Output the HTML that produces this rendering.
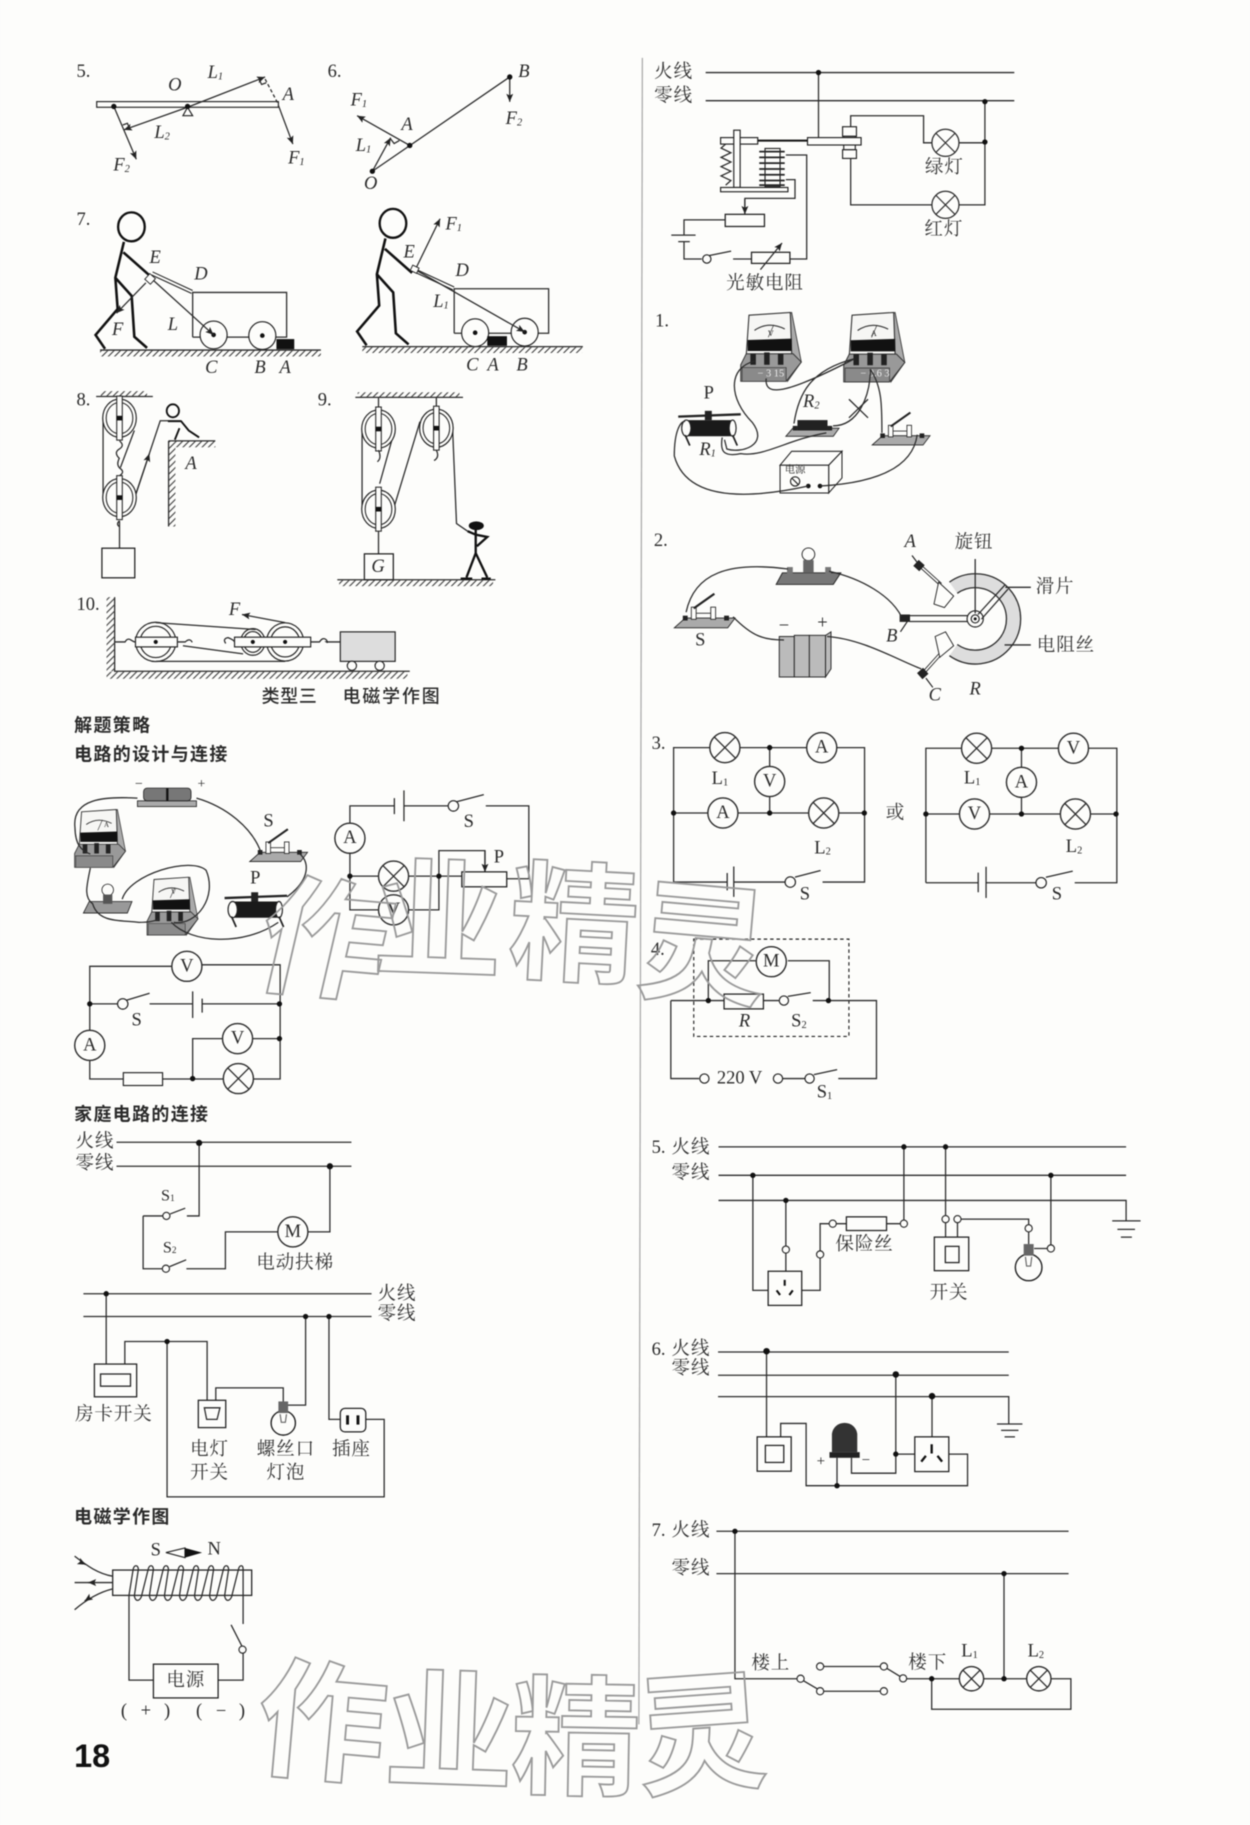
<!DOCTYPE html>
<html><head><meta charset="utf-8"><style>
html,body{margin:0;padding:0;background:#fdfdfb}
svg{display:block;filter:blur(.4px)}
.w{fill:none;stroke:#2b2b2b;stroke-width:1.1}
.t{font-family:"Liberation Serif","Noto Serif CJK SC",serif;font-size:16px;fill:#2a2a2a;text-anchor:middle;dominant-baseline:central}
.i{font-family:"Liberation Serif",serif;font-style:italic;font-size:16px;fill:#2a2a2a;text-anchor:middle;dominant-baseline:central}
.c{font-family:"Liberation Serif","Noto Serif CJK SC",serif;font-size:16px;letter-spacing:.8px;fill:#333;text-anchor:middle;dominant-baseline:central}
.h{font-family:"Liberation Sans","Noto Sans CJK SC",sans-serif;font-size:15.5px;letter-spacing:1.2px;font-weight:700;fill:#2a2a2a;dominant-baseline:central}
.k{font-family:"Noto Sans CJK SC",sans-serif;font-weight:700;font-size:112px;fill:none;stroke:#9a9a9a;stroke-width:1.6}
</style></head><body>
<svg xmlns="http://www.w3.org/2000/svg" width="1250" height="1825" viewBox="0 0 1080 1577">
<defs>
<pattern id="h" width="5.5" height="5.5" patternUnits="userSpaceOnUse"><path d="M0 5.5L5.5 0M-1 1L1 -1M4.5 6.5L6.5 4.5" stroke="#333" stroke-width=".9"/></pattern>
<marker id="a" markerWidth="8" markerHeight="8" refX="7" refY="3" orient="auto" markerUnits="userSpaceOnUse"><path d="M0 0L7 3L0 6L1.5 3Z" fill="#222"/></marker>
<g id="l"><circle r="13" fill="#fdfdfb" stroke="#2b2b2b" stroke-width="1.2"/><path d="M-9.2 -9.2L9.2 9.2M-9.2 9.2L9.2 -9.2" stroke="#2b2b2b" stroke-width="1.1"/></g>
<g id="l2"><circle r="10.5" fill="#fdfdfb" stroke="#2b2b2b" stroke-width="1.2"/><path d="M-7.4 -7.4L7.4 7.4M-7.4 7.4L7.4 -7.4" stroke="#2b2b2b" stroke-width="1.1"/></g>
<circle id="o" r="13" fill="#fdfdfb" stroke="#2b2b2b" stroke-width="1.2"/>
<circle id="d" r="2.3" fill="#111"/>
<circle id="q" r="3.1" fill="#fdfdfb" stroke="#2b2b2b" stroke-width="1"/>
<g id="p"><ellipse rx="14.5" ry="16.5" fill="#fdfdfb" stroke="#222" stroke-width="1"/><ellipse rx="11.5" ry="13.5" fill="none" stroke="#222" stroke-width=".9"/><rect x="-2.4" y="-19" width="4.8" height="38" fill="#fdfdfb" stroke="#222" stroke-width=".9"/><rect x="-2.4" y="-2" width="4.8" height="4" fill="#111"/></g>
<g id="m"><polygon points="30,3 37,0 44,36 34,50 33,30" fill="#aaa" stroke="#333" stroke-width=".6"/><polygon points="6,2 36,0 37,30 4,31" fill="#f6f6f4" stroke="#333" stroke-width=".8"/><path d="M10 13Q20 6 32 12" fill="none" stroke="#333" stroke-width=".8"/><path d="M20 18L24 9" stroke="#333" stroke-width=".5"/><polygon points="5,20 37,19 37,28 5,28" fill="#111"/><polygon points="0,38 4,30 38,30 44,36 33,50 0,50" fill="#999" stroke="#333" stroke-width=".7"/><polygon points="1,40 33,40 33,50 1,50" fill="#8a8a8a" stroke="#333" stroke-width=".5"/><rect x="7" y="30" width="4" height="8" fill="#222"/><rect x="17" y="29" width="4" height="9" fill="#222"/><rect x="27" y="30" width="4" height="8" fill="#222"/></g>
<g id="r"><rect x="6" y="8" width="42" height="14" rx="3" fill="#1a1a1a"/><ellipse cx="7" cy="15" rx="4" ry="7" fill="#fdfdfb" stroke="#222"/><ellipse cx="47" cy="15" rx="3" ry="7" fill="#fdfdfb" stroke="#222"/><path d="M0 5L54 3" stroke="#222" stroke-width="2"/><rect x="23" y="0" width="6" height="8" fill="#222"/><path d="M6 21L10 30M47 21L51 30" stroke="#222" stroke-width="1.5"/></g>
<g id="s"><polygon points="0,30 9,22 50,22 44,30" fill="#aaa" stroke="#222" stroke-width=".7"/><rect x="14" y="13" width="4" height="10" fill="#fdfdfb" stroke="#222" stroke-width=".7"/><rect x="30" y="13" width="4" height="10" fill="#fdfdfb" stroke="#222" stroke-width=".7"/><path d="M16 14L33 2" stroke="#222" stroke-width="1.8"/><path d="M18 18H30" stroke="#222" stroke-width=".7"/><rect x="7" y="20" width="4" height="4" fill="#222"/><rect x="41" y="20" width="4" height="4" fill="#222"/></g>
<g id="fig"><ellipse cx="113.5" cy="196" rx="11.5" ry="12.5" fill="none" stroke="#111" stroke-width="2"/><path d="M107 209L99.6 240L101.6 267L82.5 289.4L90.7 301.4M99.6 240L113.7 255.7L116 291L127 300.6M106.5 218L130 238.8" fill="none" stroke="#111" stroke-width="2.2"/><path d="M131.8 235L166.4 251M130.8 237.5L165.4 253.5" fill="none" stroke="#222" stroke-width=".9"/></g>
</defs>
<rect width="1080" height="1577" fill="#fdfdfb"/>
<path d="M555 50L552 1490" stroke="#aaa" stroke-width="1.1"/>

<!-- 5 -->
<text class="t" x="72" y="62">5.</text>
<rect x="83.5" y="87.8" width="157" height="4.9" fill="#fdfdfb" stroke="#222"/>
<polygon points="158,100 166.4,100 162,92.7" fill="#fdfdfb" stroke="#222"/>
<path class="w" d="M162 92.7L229 66.5" marker-end="url(#a)"/>
<path class="w" d="M229 68.3L240.4 90" stroke-dasharray="3 2"/>
<path class="w" d="M224 69L226 73L230 71.5"/>
<path class="w" d="M240.4 90.8L253 124.5" marker-end="url(#a)"/>
<path class="w" d="M98.3 92L117.7 137.6" marker-end="url(#a)"/>
<path class="w" d="M162 92.7L107 112.2" marker-end="url(#a)"/>
<path class="w" d="M106 108L110 106.5L112 111"/>
<use href="#d" x="98.3" y="92"/><use href="#d" x="162" y="92"/>
<text class="i" x="151" y="74">O</text>
<text class="i" x="186" y="63">L<tspan font-size="9" dy="3">1</tspan></text>
<text class="i" x="249" y="82">A</text>
<text class="i" x="140" y="115">L<tspan font-size="9" dy="3">2</tspan></text>
<text class="i" x="105" y="143">F<tspan font-size="9" dy="3">2</tspan></text>
<text class="i" x="256" y="137">F<tspan font-size="9" dy="3">1</tspan></text>
<!-- 6 -->
<text class="t" x="289" y="62">6.</text>
<path class="w" d="M321.7 148L440.4 66.5"/>
<path class="w" d="M440.4 66.5V88" marker-end="url(#a)"/>
<path class="w" d="M354 125.7L308.5 100" marker-end="url(#a)"/>
<path class="w" d="M321.7 148L337.5 119" marker-end="url(#a)"/>
<path class="w" d="M337 119.5L340.5 124L345 121.5"/>
<use href="#d" x="440.4" y="66.5"/><use href="#d" x="354" y="125.7"/><use href="#d" x="321.7" y="148"/>
<text class="i" x="452.6" y="62">B</text>
<text class="i" x="310" y="87">F<tspan font-size="9" dy="3">1</tspan></text>
<text class="i" x="444" y="103">F<tspan font-size="9" dy="3">2</tspan></text>
<text class="i" x="351.6" y="108">A</text>
<text class="i" x="314" y="126">L<tspan font-size="9" dy="3">1</tspan></text>
<text class="i" x="320.3" y="159">O</text>
<!-- 7 -->
<text class="t" x="72" y="190">7.</text>
<use href="#fig"/>
<path class="w" d="M166.4 291.3V252.7H247.6V291.3H166.4"/>
<ellipse cx="184.5" cy="289.4" rx="11.7" ry="12" fill="#fdfdfb" stroke="#222"/><circle cx="184.5" cy="289.4" r="2" fill="#111"/>
<ellipse cx="226.6" cy="290" rx="11.7" ry="12" fill="#fdfdfb" stroke="#222"/><circle cx="226.6" cy="290" r="2" fill="#111"/>
<rect x="238.8" y="293" width="15.4" height="8.8" fill="#111"/>
<path class="w" d="M86.4 302.5H277.2"/><rect x="86.4" y="303" width="190.8" height="5" fill="url(#h)"/>
<path class="w" d="M130 240L184.5 289.4" marker-end="url(#a)"/>
<path class="w" d="M126 244.4L100.6 270.6" marker-end="url(#a)"/>
<rect x="126.5" y="238" width="6.5" height="6.5" transform="rotate(42 130 241)" fill="#fdfdfb" stroke="#222" stroke-width=".8"/>
<text class="i" x="134" y="223">E</text><text class="i" x="173.6" y="237">D</text><text class="i" x="101.6" y="285">F</text><text class="i" x="149.3" y="281">L</text><text class="i" x="182.5" y="318">C</text><text class="i" x="224.6" y="318">B</text><text class="i" x="246.3" y="318">A</text>
<use href="#fig" transform="translate(226,-3)"/>
<path class="w" d="M392.4 288V249.5H474V288H392.4"/>
<ellipse cx="410.5" cy="287.5" rx="11.7" ry="12" fill="#fdfdfb" stroke="#222"/><circle cx="410.5" cy="287.5" r="2" fill="#111"/>
<ellipse cx="453.3" cy="287" rx="11.7" ry="12" fill="#fdfdfb" stroke="#222"/><circle cx="453.3" cy="287" r="2" fill="#111"/>
<rect x="421" y="290.5" width="17" height="8.3" fill="#111"/>
<path class="w" d="M313 299.5H503.6"/><rect x="313" y="300" width="190" height="5" fill="url(#h)"/>
<path class="w" d="M358.8 233L380.2 189" marker-end="url(#a)"/>
<path class="w" d="M358.8 233L453.3 286.8" marker-end="url(#a)"/>
<rect x="355.5" y="230" width="6" height="5" transform="rotate(25 358 232)" fill="#fdfdfb" stroke="#222" stroke-width=".8"/>
<text class="i" x="353.5" y="218">E</text><text class="i" x="392" y="194">F<tspan font-size="9" dy="3">1</tspan></text><text class="i" x="399.3" y="234">D</text><text class="i" x="381" y="261">L<tspan font-size="9" dy="3">1</tspan></text><text class="i" x="408" y="316">C</text><text class="i" x="426" y="316">A</text><text class="i" x="451" y="316">B</text>
<!-- 8 -->
<text class="t" x="72" y="346">8.</text>
<path class="w" d="M83 342.6H132"/><rect x="87" y="338" width="40" height="4.5" fill="url(#h)"/>
<path class="w" d="M89 361V430M116 372L104 404M117 428L138.4 363.6H156.5"/>
<path class="w" d="M117 428L129 392" marker-end="url(#a)"/>
<use href="#p" x="103.2" y="361.3"/><use href="#p" x="103.2" y="430"/>
<path class="w" d="M103.2 381Q108 385 103 388T103 396Q100 402 104 405T103.2 411M103.2 450V473.7M103 450Q100 453 103 455"/>
<rect x="88" y="473.7" width="28.4" height="25.6" fill="none" stroke="#222" stroke-width="1.1"/>
<ellipse cx="149.3" cy="355" rx="5.3" ry="5.6" fill="none" stroke="#111" stroke-width="1.6"/>
<path d="M145 364L156.5 364L163 372L172 378M155 370L151 380" fill="none" stroke="#111" stroke-width="1.6"/>
<path class="w" d="M145.6 381H186M145.6 381V455"/><rect x="146" y="381.5" width="40" height="5" fill="url(#h)"/><rect x="146" y="386" width="5.5" height="69" fill="url(#h)"/>
<text class="i" x="165" y="401">A</text>
<!-- 9 -->
<text class="t" x="280.5" y="346">9.</text>
<path class="w" d="M307 343.4H400"/><rect x="309" y="339" width="88" height="4.5" fill="url(#h)"/>
<path class="w" d="M312.8 370V440M340.7 437.4L362.8 364.4M391 370L394.4 452.4L404 459M340 375L328 418"/>
<use href="#p" x="327" y="370.7"/><use href="#p" x="377" y="370"/><use href="#p" x="327" y="440"/>
<path class="w" d="M327 343V352M377 343V351M377 389Q380 395 375 398M327 389Q330 396 326 399M327 459V478.6"/>
<rect x="314.8" y="478.6" width="25" height="22.4" fill="none" stroke="#222" stroke-width="1.1"/>
<path class="w" d="M291.4 501H428"/><rect x="293" y="501.5" width="133" height="5" fill="url(#h)"/>
<text class="i" x="326.6" y="490">G</text>
<ellipse cx="411.5" cy="454.3" rx="6.5" ry="3.8" fill="#111"/>
<path d="M411 458V478L403 499M411 478L421 499M404 459L411 462L421 464L412 472M398 500H408M416 500H424" fill="none" stroke="#111" stroke-width="2"/>
<!-- 10 -->
<text class="t" x="76" y="523">10.</text>
<path class="w" d="M99 516V580H354"/><rect x="92" y="516" width="7" height="64" fill="url(#h)"/><rect x="92" y="580.5" width="260" height="6" fill="url(#h)"/>
<ellipse cx="134.5" cy="554.7" rx="17.4" ry="17" fill="#fdfdfb" stroke="#222"/><ellipse cx="134.5" cy="554.7" rx="13.5" ry="13.5" fill="none" stroke="#222"/>
<ellipse cx="218.4" cy="554.7" rx="10.5" ry="11.5" fill="#fdfdfb" stroke="#222"/><ellipse cx="218.4" cy="554.7" rx="8" ry="9" fill="none" stroke="#222"/>
<ellipse cx="246.3" cy="554.7" rx="16" ry="16.5" fill="#fdfdfb" stroke="#222"/><ellipse cx="246.3" cy="554.7" rx="12.5" ry="13" fill="none" stroke="#222"/>
<path class="w" d="M134.5 538L220.7 544M134.5 571.5H246.3M158 558L210 565"/>
<path class="w" d="M246.3 538L209 531" marker-end="url(#a)"/>
<rect x="117" y="550.6" width="36.2" height="8.4" fill="#fdfdfb" stroke="#222"/><rect x="202.6" y="550.6" width="65.8" height="8.4" fill="#fdfdfb" stroke="#222"/>
<circle cx="134.5" cy="554.7" r="1.8" fill="#111"/><circle cx="218.4" cy="554.7" r="1.8" fill="#111"/><circle cx="246.3" cy="554.7" r="1.8" fill="#111"/>
<path class="w" d="M99 554.7H108Q110 551 113 553T117 554.7M153 554.7H160Q164 551 166 555M195 556Q192 552 197 551Q202 553 202.6 554.7M268.4 554.7H276Q279 550 282 553Q284 556 282 554.7H294"/>
<rect x="294" y="546" width="47.4" height="25.5" fill="#ddd" stroke="#222"/>
<circle cx="304" cy="575.3" r="4" fill="#fdfdfb" stroke="#222"/><circle cx="328" cy="575.3" r="4" fill="#fdfdfb" stroke="#222"/>
<text class="i" x="202.6" y="527">F</text>
<text class="h" x="226" y="602" style="font-size:15.5px;letter-spacing:.6px;font-weight:500">类型三</text>
<text class="h" x="296" y="602" style="font-size:15.5px;letter-spacing:1.6px;font-weight:500">电磁学作图</text>
<text class="h" x="64" y="627">解题策略</text>
<text class="h" x="64" y="652">电路的设计与连接</text>

<!-- physical A -->
<rect x="118.7" y="692" width="51" height="5" fill="#aaa" stroke="#222" stroke-width=".7"/>
<rect x="124" y="681" width="41" height="11" rx="3" fill="#777" stroke="#222" stroke-width=".7"/><path d="M144.5 681V692" stroke="#111" stroke-width="2"/>
<text class="t" x="120" y="678" style="font-size:12px">−</text><text class="t" x="174" y="678" style="font-size:12px">+</text>
<use href="#m" x="64.4" y="699.5"/>
<use href="#m" x="127" y="758"/>
<text class="t" x="92" y="713" style="font-size:6px">A</text><text class="t" x="150" y="771" style="font-size:6px">V</text>
<g transform="translate(215.7,714.5)"><use href="#s"/></g>
<text class="t" x="232" y="710">S</text>
<g transform="translate(72,763)"><polygon points="0,26 5,16 42,16 38,26" fill="#999" stroke="#222" stroke-width=".7"/><circle cx="21" cy="6" r="5" fill="#fdfdfb" stroke="#222" stroke-width=".7"/><rect x="17" y="10" width="8" height="8" fill="#555"/></g>
<use href="#r" x="194" y="771"/>
<text class="t" x="220.5" y="759">P</text>
<path class="w" d="M118.7 689.7C90 688 62 690 64.7 715C65 730 70 735 78 738M78 750C75 765 72 775 80 781C85 798 105 795 120 797C128 797 134 796 137 794M105.5 777C112 755 165 740 178 752C188 775 170 800 150 797M169.7 689.7C195 697 218 715 225.6 737M258 737C268 745 268 760 248 775M240.4 797C210 818 165 815 148 797"/>
<!-- B -->
<path class="w" d="M302.3 711.5V696.4H340.7M340.7 689.7V703.5M349 683V709.6M349 696.4H386.8M394.5 692.8L418 686.6M419.7 696.4H456.9V759.3H437.8M302.3 737V786.2H327M353 786.2H379.2V735H419V753" />
<path class="w" d="M419 735V753.4" marker-end="url(#a)"/>
<path class="w" d="M302.3 757.1H327M353 757.1H399"/>
<circle cx="391.7" cy="696.4" r="4.5" fill="#fdfdfb" stroke="#222"/>
<rect x="399" y="753.4" width="38.8" height="12.9" fill="none" stroke="#222" stroke-width="1.1"/>
<use href="#o" x="302.3" y="724.3"/><text class="t" x="302.3" y="724.3">A</text>
<use href="#l" x="340" y="757.1"/><use href="#o" x="340" y="786.2"/><text class="t" x="340" y="786.2">V</text>
<use href="#d" x="302.3" y="757.1"/><use href="#d" x="379.2" y="757.1"/>
<text class="t" x="431" y="741">P</text><text class="t" x="405" y="710.5">S</text>
<!-- C -->
<path class="w" d="M148 835H77.5V890M77.5 916V932.4H106.5M140.4 932.4H193M219 932.4H242V833.7H174.4M77.5 867.5H101.5M108.8 864.4L129.2 858.3M129.2 867.5H166.4M166.4 856.7V879.7M174.6 862.9V875M174.6 867.5H241.4M192 897.5H166.4V932M218 897.5H241.4"/>
<circle cx="106" cy="867.5" r="4.5" fill="#fdfdfb" stroke="#222"/>
<rect x="106.5" y="926.9" width="33.9" height="11.1" fill="#fdfdfb" stroke="#222"/>
<use href="#o" x="161.4" y="835"/><text class="t" x="161.4" y="835">V</text>
<use href="#o" x="77.5" y="903.3"/><text class="t" x="77.5" y="903.3">A</text>
<use href="#o" x="205.2" y="897.5"/><text class="t" x="205.2" y="897.5">V</text>
<use href="#l" x="205.9" y="932"/>
<use href="#d" x="77.5" y="867.5"/><use href="#d" x="241.4" y="867.5"/><use href="#d" x="241.4" y="897.5"/><use href="#d" x="166.4" y="932"/>
<text class="t" x="118" y="882">S</text>
<text class="h" x="64" y="963">家庭电路的连接</text>
<!-- home1 -->
<path class="w" d="M100.6 987H303.6M100.6 1007.8H303.6M172 987V1050.7H161.4M147 1049L160 1044M123.6 1050.7H140.5M123.6 1050.7V1096.3H140M146.5 1094.5L160.8 1088.6M161 1096.3H194.7V1064.5H240M266 1064.5H285V1007.8"/>
<use href="#q" x="143.7" y="1050.7"/><use href="#q" x="143.3" y="1096.3"/>
<use href="#o" x="253" y="1064.5"/><text class="t" x="253" y="1064.5">M</text>
<circle cx="172" cy="987.6" r="2.7" fill="#111"/><circle cx="285" cy="1007.8" r="2.7" fill="#111"/>
<text class="c" x="82" y="987">火线</text><text class="c" x="82" y="1006">零线</text>
<text class="t" x="145" y="1033" style="font-size:14px">S<tspan font-size="8" dy="3">1</tspan></text><text class="t" x="146.6" y="1078" style="font-size:14px">S<tspan font-size="8" dy="3">2</tspan></text>
<text class="c" x="255" y="1092">电动扶梯</text>
<!-- home2 -->
<path class="w" d="M72 1117.9H321M72 1137.6H321M91.7 1117.9V1178.7M107.8 1178.7V1159.2H178.9V1210M144.3 1159.2V1293.5H331.9V1226.5H316M186.4 1210V1199.3H244.7V1212M248 1214.2H264V1137.6M284.2 1137.6V1226.5H294"/>
<rect x="81.5" y="1178.7" width="36.5" height="28.3" fill="none" stroke="#222" stroke-width="1.1"/><rect x="86.8" y="1187.3" width="25.9" height="10.5" fill="none" stroke="#222" stroke-width="1.1"/>
<rect x="171.3" y="1210" width="23.7" height="23.6" fill="none" stroke="#222" stroke-width="1.1"/><path class="w" d="M176.5 1216.5H190L187.500 1226.500H178.500Z"/>
<circle cx="244.7" cy="1229.6" r="10.5" fill="#fdfdfb" stroke="#222" stroke-width="1.2"/><rect x="240.5" y="1211" width="8.4" height="10" fill="#666"/><path d="M242 1222L243 1229H246.5L247.5 1222" fill="none" stroke="#666"/>
<rect x="294" y="1217" width="22" height="20.3" rx="4" fill="#fdfdfb" stroke="#222" stroke-width="1.1"/><rect x="299" y="1223" width="2.5" height="8" fill="#111"/><rect x="308" y="1223" width="2.5" height="8" fill="#111"/>
<use href="#d" x="91.7" y="1117.9"/><use href="#d" x="264" y="1137.6"/><use href="#d" x="284.2" y="1137.6"/><use href="#d" x="144.3" y="1159.2"/>
<text class="c" x="343" y="1118.5">火线</text><text class="c" x="343" y="1136">零线</text>
<text class="c" x="98.3" y="1222.5">房卡开关</text>
<text class="c" x="181" y="1253">电灯</text><text class="c" x="181" y="1273.4">开关</text>
<text class="c" x="247" y="1253">螺丝口</text><text class="c" x="247" y="1273.4">灯泡</text>
<text class="c" x="303.6" y="1253">插座</text>
<text class="h" x="64" y="1311">电磁学作图</text>
<!-- solenoid -->
<rect x="97.3" y="1356.7" width="120.1" height="21.9" fill="none" stroke="#222" stroke-width="1.1"/>
<path class="w" d="M111.4 1378.6L115 1356C116 1352 119 1352 119.5 1356L116 1379C117 1384 120 1384 122 1380L128 1356C129 1352 132 1352 132.5 1356L129 1379C130 1384 133 1384 135 1380L141 1356C142 1352 145 1352 145.5 1356L142 1379C143 1384 146 1384 148 1380L154 1356C155 1352 158 1352 158.5 1356L155 1379C156 1384 159 1384 161 1380L167 1356C168 1352 171 1352 171.5 1356L168 1379C169 1384 172 1384 174 1380L180 1356C181 1352 184 1352 184.5 1356L181 1379C182 1384 185 1384 187 1380L193 1356C194 1352 197 1352 197.5 1356L194 1379C195 1384 198 1384 200 1380L206 1356C207 1352 210 1352 210 1356V1379V1403.3"/>
<path class="w" d="M111.4 1378.6V1451.8H132.5M188.4 1451.8H210V1428.6M209 1422.5L199.6 1404"/>
<use href="#q" x="209.5" y="1425.5"/>
<rect x="132.5" y="1438" width="55.9" height="29.2" fill="none" stroke="#222" stroke-width="1.1"/>
<text class="c" x="160.5" y="1452.5">电源</text>
<path class="w" d="M97.3 1362C85 1360 75 1353 64.4 1344.7" /><path class="w" d="M72 1351L74 1352" marker-end="url(#a)"/>
<path class="w" d="M97.3 1367.5H64.4"/><path class="w" d="M80 1367.5H76" marker-end="url(#a)"/>
<path class="w" d="M97.3 1373C85 1376 75 1382 64.4 1391"/><path class="w" d="M76 1381.5L73 1383.5" marker-end="url(#a)"/>
<polygon points="143.3,1341.6 159.8,1337.6 159.8,1346" fill="#fdfdfb" stroke="#222"/><polygon points="159.8,1337.6 174.6,1341.6 159.8,1346" fill="#111"/>
<text class="t" x="134.5" y="1340">S</text><text class="t" x="185" y="1339">N</text>
<text class="t" x="107" y="1479">(</text><text class="t" x="126" y="1479">+</text><text class="t" x="144.3" y="1479">)</text><text class="t" x="172" y="1479">(</text><text class="t" x="191" y="1479">−</text><text class="t" x="209" y="1479">)</text>
<text x="64" y="1527" style="font-family:'Liberation Sans',sans-serif;font-weight:700;font-size:28px" fill="#111">18</text>

<!-- relay -->
<path class="w" d="M609.7 62.7H876.4M609.7 87H876.4M707.2 62.7V118.9M851 87.8V177H828M806 177H735V136M851 123.4H828M806 123.4H798V100H735V109.5"/>
<use href="#d" x="707.2" y="62.7"/><use href="#d" x="851" y="87.8"/><use href="#d" x="851" y="122.7"/>
<use href="#l" x="816.9" y="123.4" transform="translate(81.69 12.34) scale(.9)"/>
<use href="#l" x="816.9" y="177" transform="translate(81.69 17.7) scale(.9)"/>
<rect x="728" y="109.5" width="12" height="8.3" fill="#fdfdfb" stroke="#222"/><rect x="729" y="117.8" width="10" height="11.6" fill="#fdfdfb" stroke="#222"/><rect x="728" y="129.4" width="12" height="7.5" fill="#fdfdfb" stroke="#222"/>
<rect x="697.7" y="118.9" width="46.3" height="6.4" fill="#fdfdfb" stroke="#222"/>
<rect x="622.6" y="118.9" width="32.1" height="5.6" fill="#fdfdfb" stroke="#222"/>
<path d="M654.7 121.5H697.7" stroke="#111" stroke-width="1.8"/>
<rect x="634" y="112.5" width="5.5" height="49.5" fill="#fdfdfb" stroke="#222"/>
<path class="w" d="M627 124.5L623 128L631.5 132L623 136L631.5 140L623 144L631.5 148L623 152L631.5 156L627 160"/>
<rect x="622.6" y="162" width="58.2" height="3.7" fill="#fdfdfb" stroke="#222"/>
<rect x="661" y="128.3" width="13" height="33" fill="#fdfdfb" stroke="#222"/>
<path d="M656 131H678M656 136H678M656 141H678M656 146H678M656 151H678M656 156H678M656 160H678" stroke="#222" stroke-width="1.5"/>
<path class="w" d="M679 133.9H697V223.8H682.5M679 155.2H686.9V171.4H643.6V184.5"/>
<path class="w" d="M643.6 172V185" marker-end="url(#a)"/>
<rect x="626.6" y="185.2" width="33.9" height="10.5" fill="none" stroke="#222" stroke-width="1.1"/>
<path class="w" d="M626.6 190H591V203.2M580 203.2H601M586 208.8H596M591 208.8V223.8H606.3M613 220.8L631.7 217M633.4 223.8H649.3"/>
<circle cx="610.7" cy="223.8" r="3.6" fill="#fdfdfb" stroke="#222"/>
<rect x="649.3" y="218" width="33.2" height="9.6" fill="none" stroke="#222" stroke-width="1.1"/>
<path class="w" d="M657 233L675.7 210" marker-end="url(#a)"/>
<text class="c" x="582" y="62.7">火线</text><text class="c" x="582" y="83.3">零线</text>
<text class="c" x="816" y="145">绿灯</text><text class="c" x="815.5" y="198.7">红灯</text>
<text class="c" x="661" y="245.5">光敏电阻</text>
<!-- item1 -->
<text class="t" x="572" y="278">1.</text>
<g transform="translate(640,270) scale(1.19)"><use href="#m"/></g>
<g transform="translate(729,270) scale(1.2)"><use href="#m"/></g>
<text class="t" x="666" y="288" style="font-size:7px">V</text><text class="t" x="755" y="288" style="font-size:7px">A</text>
<text class="t" x="666" y="323" style="font-size:9px;fill:#eee">− 3 15</text><text class="t" x="756" y="323" style="font-size:9px;fill:#eee">− 0.6 3</text>
<use href="#r" x="586" y="355"/>
<g transform="translate(753.6,354.5)"><use href="#s"/></g>
<g transform="translate(679,360)"><polygon points="0,17 6,10 46,10 41,17" fill="#aaa" stroke="#222" stroke-width=".7"/><rect x="10" y="3" width="26" height="9" fill="#222"/><rect x="6" y="8" width="4" height="4" fill="#222"/><rect x="36" y="8" width="4" height="4" fill="#222"/></g>
<g fill="#fdfdfb" stroke="#222" stroke-width=".9"><polygon points="674,402 684,390 727.5,390 716,402"/><polygon points="716,402 727.5,390 727.5,413 716,426"/><rect x="674" y="402" width="42" height="24"/></g>
<circle cx="687" cy="416" r="4" fill="#fdfdfb" stroke="#222"/><path d="M684.5 413.5L689.5 418.5" stroke="#222"/>
<circle cx="698.4" cy="420" r="2" fill="#111"/><circle cx="708.5" cy="420" r="2" fill="#111"/>
<text class="t" x="687" y="406.5" style="font-size:9px">电源</text>
<path class="w" d="M652 312C628 318 630 345 650 365C665 385 640 392 628 388L626 380M662 327C660 345 684 338 738.3 310M738 310C700 320 690 340 686 366M752 319C752 342 741.7 368 719.7 368M752 319C762 334 762 350 762 374M714 374C680 380 660 395 640 392C625 395 622 390 624 378M792.5 375.6C789 402 762 417 708.5 420M698.4 420C643.5 432 593 432 582.6 394C582.6 372 588 364 592 364"/>
<path class="w" d="M733.5 345L750 361M750 345L733.5 361"/>
<text class="t" x="612.4" y="340">P</text>
<text class="i" x="611.4" y="388.7">R<tspan font-size="9" dy="3">1</tspan></text>
<text class="i" x="701" y="347.5">R<tspan font-size="9" dy="3">2</tspan></text>
<!-- item2 -->
<text class="t" x="571" y="467.4">2.</text>
<polygon points="670.6,505 676,495 726.5,495 720,505" fill="#777" stroke="#222" stroke-width=".8"/>
<circle cx="698.5" cy="479" r="5.5" fill="#fdfdfb" stroke="#222" stroke-width=".8"/><rect x="694" y="484" width="9" height="11" fill="#666"/><rect x="680" y="490" width="5" height="6" fill="#777"/><rect x="713" y="490" width="5" height="6" fill="#777"/>
<g transform="translate(582.6,511) scale(1.05)"><use href="#s"/></g>
<text class="t" x="605" y="553.5">S</text>
<g fill="#bbb" stroke="#222" stroke-width=".8"><rect x="673.3" y="550" width="13" height="35"/><rect x="686.3" y="549" width="13" height="36"/><rect x="699.3" y="549" width="14" height="36"/><polygon points="713.3,549 718,546 718,578 713.3,585"/></g>
<text class="t" x="677.4" y="541">−</text><text class="t" x="710.6" y="538.6">+</text>
<path d="M823.7 507.8A33 33 0 1 1 823.7 561.8" fill="none" stroke="#ddd" stroke-width="12"/>
<path d="M820.3 503A39 39 0 1 1 820.3 566.6" class="w" stroke-width=".9"/><path d="M827.1 512.7A27 27 0 1 1 827.1 556.9" class="w" stroke-width=".9"/>
<path d="M794 488L812.8 505M797.6 581.7L812.8 564.8" stroke="#222" stroke-width="3"/><path d="M794 488L812.8 505M797.6 581.7L812.8 564.8" stroke="#fdfdfb" stroke-width="1.5"/>
<path d="M788 480L794 488M800 586L806 594M778 546L784 537" stroke="#222"/>
<polygon points="811,503 824,515 816,525 807,522" fill="#fdfdfb" stroke="#222" stroke-width=".8"/>
<polygon points="808,550 817,546 824,558 812,568" fill="#fdfdfb" stroke="#222" stroke-width=".8"/>
<rect x="791" y="485" width="7" height="7" transform="rotate(42 794 488)" fill="#222"/><rect x="794" y="578" width="7" height="7" transform="rotate(-42 798 582)" fill="#222"/>
<rect x="777.3" y="531" width="9" height="6.4" fill="#222"/><path class="w" d="M786 532H838M786 537H838"/>
<circle cx="842.6" cy="534.8" r="7" fill="#fdfdfb" stroke="#222"/><circle cx="842.6" cy="534.8" r="3.5" fill="#fdfdfb" stroke="#222"/><circle cx="842.6" cy="534.8" r="1.3" fill="#111"/>
<path class="w" d="M842.6 483V530M845 531L868.7 505M848 535L871 509M868.7 507.5H890.7M868 557.3H890.7"/>
<path class="w" d="M680.8 491.7C630 485 600 495 592.8 529M716.3 493.6C745 500 770 515 779 533M633.4 533C650 550 660 553 677.4 553M714.6 550C745 552 775 570 796 578"/>
<text class="i" x="786.4" y="468.5">A</text><text class="i" x="807.7" y="601">C</text><text class="i" x="770.5" y="550">B</text><text class="i" x="842.6" y="596">R</text>
<text class="c" x="841.6" y="469">旋钮</text><text class="c" x="911.6" y="507.5">滑片</text><text class="c" x="921" y="558">电阻丝</text>
<!-- item3 -->
<text class="t" x="569" y="643">3.</text>
<path class="w" d="M582 762.2V646H747V762.2H710.7M582 702.5H746.8M665 646V702.5M582 762.2H628.3M628.3 754.4V769.4M634 748.7V775M634 762.2H678.5M686.9 757.9L709 752.2"/>
<circle cx="682.8" cy="762.2" r="4.5" fill="#fdfdfb" stroke="#222"/>
<use href="#l" x="626.3" y="646"/><use href="#o" x="710" y="646"/><text class="t" x="710" y="646">A</text>
<use href="#o" x="665" y="675.3"/><text class="t" x="665" y="675.3">V</text>
<use href="#o" x="624.6" y="702.5"/><text class="t" x="624.6" y="702.5">A</text><use href="#l" x="711.7" y="702.5"/>
<use href="#d" x="665" y="646"/><use href="#d" x="665" y="702.5"/><use href="#d" x="582" y="702.5"/><use href="#d" x="746.8" y="702.5"/>
<text class="t" x="622" y="673">L<tspan font-size="9" dy="3">1</tspan></text><text class="t" x="710.7" y="733">L<tspan font-size="9" dy="3">2</tspan></text><text class="t" x="695.4" y="772.8">S</text>
<text class="c" x="773.7" y="702.8">或</text>
<path class="w" d="M800 762.8V646.6H965V762.8H928.6M800 703.4H964.3M882.6 646.6V703.4M800 762.8H845.2M845.2 754V771M852 749V776M852 762.8H895.5M903.7 758L926.9 752.7"/>
<circle cx="899.6" cy="762.8" r="4.5" fill="#fdfdfb" stroke="#222"/>
<use href="#l" x="843.8" y="646.6"/><use href="#o" x="927.5" y="646.6"/><text class="t" x="927.5" y="646.6">V</text>
<use href="#o" x="882.6" y="676"/><text class="t" x="882.6" y="676">A</text>
<use href="#o" x="842" y="703.4"/><text class="t" x="842" y="703.4">V</text><use href="#l" x="929.2" y="703.4"/>
<use href="#d" x="882.6" y="646.6"/><use href="#d" x="882.6" y="703.4"/><use href="#d" x="800" y="703.4"/><use href="#d" x="964.3" y="703.4"/>
<text class="t" x="840" y="672.7">L<tspan font-size="9" dy="3">1</tspan></text><text class="t" x="928" y="732">L<tspan font-size="9" dy="3">2</tspan></text><text class="t" x="913.2" y="772.8">S</text>
<!-- item4 -->
<text class="t" x="568.4" y="821">4.</text>
<rect x="599.4" y="811.5" width="134.1" height="84.1" fill="none" stroke="#222" stroke-width="1" stroke-dasharray="3 2.5"/>
<path class="w" d="M612 864.6V830.2H652.8M680.7 830.2H716.5V864.6M579.6 864.6H625.6M659.6 864.6H673M680.7 861L700.5 857.7M702.2 864.6H757.3V932H724.3M703.2 928.6L723.3 924.3M579.6 864.6V932H604M676 932H696"/>
<rect x="625.6" y="859" width="34" height="12.8" fill="#fdfdfb" stroke="#222" stroke-width="1.1"/>
<use href="#o" x="666.4" y="831"/><text class="t" x="666.4" y="831">M</text>
<circle cx="677.3" cy="864.6" r="4" fill="#fdfdfb" stroke="#222"/><circle cx="608.6" cy="932" r="4" fill="#fdfdfb" stroke="#222"/><circle cx="672.2" cy="932" r="4" fill="#fdfdfb" stroke="#222"/><circle cx="699.5" cy="932" r="4" fill="#fdfdfb" stroke="#222"/>
<use href="#d" x="612" y="864.6"/><use href="#d" x="715.8" y="864.6"/>
<text class="t" x="639" y="932">220 V</text>
<text class="i" x="643.3" y="882.7">R</text><text class="t" x="690.3" y="882.7">S<tspan font-size="9" dy="3">2</tspan></text><text class="t" x="712.4" y="944">S<tspan font-size="9" dy="3">1</tspan></text>
<!-- item5 -->
<path class="w" d="M620.8 991H973M620.8 1015.6H973M620.8 1037.3H973V1055M961 1055H985.5M965.5 1062.3H980.7M968.5 1069H978M650.5 1015.6V1115H663.7M679 1037.3V1098.5M692.7 1115H708.6V1057.4H716.4M722.6 1057.4H731.3M766 1057.4H781V991M817 991V1069M827.3 1053.5V1069M830.4 1053.5H888.8V1075M893.5 1078.8H908V1015.6"/>
<rect x="663.7" y="1098.5" width="29" height="29.5" fill="#fdfdfb" stroke="#222" stroke-width="1.1"/>
<path d="M678 1106V1111M671 1115L674 1119M685 1115L682 1119" stroke="#111" stroke-width="1.8"/>
<rect x="731.3" y="1051.5" width="34.7" height="11.8" fill="#fdfdfb" stroke="#222" stroke-width="1.1"/>
<rect x="807.3" y="1069" width="29.7" height="29" fill="none" stroke="#222" stroke-width="1.1"/><rect x="816.8" y="1077" width="11.8" height="14" fill="none" stroke="#222" stroke-width="1.1"/>
<circle cx="888.8" cy="1095.2" r="11.5" fill="#fdfdfb" stroke="#222" stroke-width="1.2"/><rect x="884.5" y="1075" width="8.6" height="10" fill="#666"/><path d="M886 1086L887 1094H890.5L891.5 1086" fill="none" stroke="#666"/>
<use href="#q" x="679" y="1079.8"/><use href="#q" x="708.6" y="1084"/><use href="#q" x="719.5" y="1057.4"/><use href="#q" x="781" y="1057.4"/><use href="#q" x="817" y="1053.5"/><use href="#q" x="827.3" y="1053.5"/><use href="#q" x="888.8" y="1061.4"/><use href="#q" x="908" y="1078.8"/>
<use href="#d" x="781" y="991"/><use href="#d" x="817" y="991"/><use href="#d" x="650.5" y="1015.6"/><use href="#d" x="908" y="1015.6"/><use href="#d" x="679" y="1037.3"/>
<text class="t" x="569" y="992">5.</text><text class="c" x="597" y="992">火线</text><text class="c" x="597" y="1014">零线</text><text class="c" x="747" y="1076">保险丝</text><text class="c" x="820" y="1117.6">开关</text>
<!-- item6 -->
<path class="w" d="M620.4 1168.3H871.6M620.4 1188.4H871.6M620.4 1206.8H871.6V1230.5M861.4 1230.5H883.4M865 1236H880M868 1241.6H877M662.3 1167.6V1241.6M674.5 1241.6V1230H696.5V1283.8H836V1256.5H819.8M805.3 1206.4V1241.6M774 1187.7V1273H735.7V1259.7M774 1256.5H790.4M723.2 1259.7V1283.8"/>
<rect x="654.2" y="1241.6" width="29.4" height="29.7" fill="none" stroke="#222" stroke-width="1.1"/><rect x="661.3" y="1249" width="15.9" height="14.7" fill="none" stroke="#222" stroke-width="1.1"/>
<rect x="790.4" y="1241.6" width="29.4" height="30" fill="#fdfdfb" stroke="#222" stroke-width="1.1"/>
<path d="M805 1248V1256M796 1263L800 1258M814 1263L810 1258" stroke="#111" stroke-width="2"/>
<path d="M718.8 1254.8V1239A11 10.5 0 0 1 740.7 1239V1254.8Z" fill="#333"/><rect x="716.7" y="1254.8" width="26.1" height="4.9" fill="#222"/>
<circle cx="662.3" cy="1167.6" r="2.8" fill="#111"/><circle cx="774" cy="1187.7" r="2.8" fill="#111"/><circle cx="805.3" cy="1206.4" r="2.8" fill="#111"/><use href="#d" x="774" y="1256.5"/><use href="#d" x="723.2" y="1283.8"/>
<text class="t" x="709.3" y="1263" style="font-size:13px">+</text><text class="t" x="748.2" y="1262" style="font-size:13px">−</text>
<text class="t" x="569" y="1166.6">6.</text><text class="c" x="597" y="1166">火线</text><text class="c" x="597" y="1183">零线</text>
<!-- item7 -->
<path class="w" d="M619 1323.2H923.3M619 1359.8H923.3M635 1323.2V1450.6H688.4M694.5 1452.5L706.5 1459.5M711.7 1461.4H760.6M711.7 1440H760.6M766 1441.5L777.5 1448.5M783.7 1450.6H829M850 1450.6H887M908.4 1450.6H925.3V1477H805V1450.6M867.5 1359.8V1450.6"/>
<use href="#q" x="691.7" y="1450.6"/><use href="#q" x="708.6" y="1461.4"/><use href="#q" x="763.7" y="1461.4"/><use href="#q" x="708.6" y="1440"/><use href="#q" x="763.7" y="1440"/><use href="#q" x="780.3" y="1450.3"/>
<use href="#l2" x="839.4" y="1450.6"/><use href="#l2" x="897.6" y="1450.6"/>
<use href="#d" x="635" y="1323.2"/><use href="#d" x="867.5" y="1359.8"/><use href="#d" x="805" y="1450.6"/><use href="#d" x="867.5" y="1450.6"/>
<text class="t" x="569" y="1323">7.</text><text class="c" x="597" y="1323">火线</text><text class="c" x="597" y="1356">零线</text><text class="c" x="666" y="1438">楼上</text><text class="c" x="801.6" y="1437.4">楼下</text>
<text class="t" x="837.7" y="1427">L<tspan font-size="9" dy="3">1</tspan></text><text class="t" x="895" y="1427">L<tspan font-size="9" dy="3">2</tspan></text>
<!-- watermark -->
<text class="k" transform="translate(216,847) rotate(5) skewX(-8)">作</text>
<text class="k" transform="translate(321,834) rotate(2)">业</text>
<text class="k" transform="translate(438,836) rotate(3)">精</text>
<text class="k" transform="translate(548,852) rotate(5)">灵</text>
<text class="k" transform="translate(219,1524) rotate(5)">作</text>
<text class="k" transform="translate(331,1535) rotate(2)">业</text>
<text class="k" transform="translate(441,1541) rotate(1)">精</text>
<text class="k" transform="translate(553,1543) rotate(-4)">灵</text>
</svg>
</body></html>
